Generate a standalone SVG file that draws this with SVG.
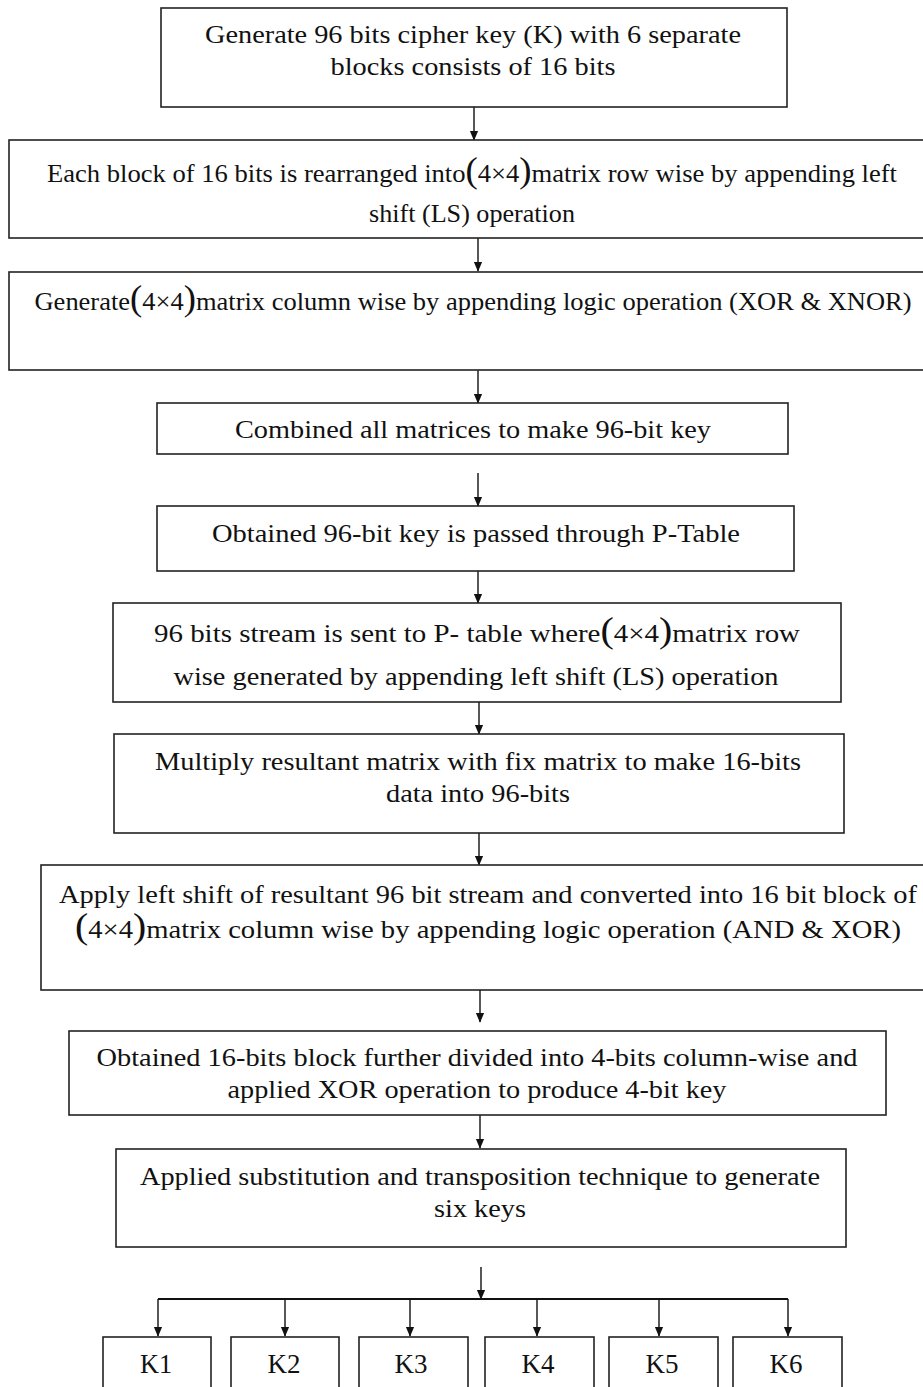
<svg xmlns="http://www.w3.org/2000/svg" width="923" height="1387" viewBox="0 0 923 1387">
<style>
.box{fill:#fff;stroke:#222;stroke-width:1.6}
.t{font-family:"Liberation Serif","Times New Roman",serif;font-size:26px;fill:#111;text-anchor:middle}
.k{font-size:28px}
.p{font-size:36px}
.c{stroke:#111;stroke-width:1.4;fill:none}
</style>
<defs>
<marker id="a" markerWidth="10" markerHeight="12" refX="11" refY="5" orient="auto" markerUnits="userSpaceOnUse" viewBox="0 0 12 10">
<path d="M0,0 L12,5 L0,10 Z" fill="#111"/>
</marker>
</defs>
<rect width="923" height="1387" fill="#fff"/>
<g id="connectors">
<line class="c" x1="474" y1="107" x2="474" y2="140" marker-end="url(#a)"/>
<line class="c" x1="478" y1="238" x2="478" y2="271" marker-end="url(#a)"/>
<line class="c" x1="478" y1="370" x2="478" y2="403" marker-end="url(#a)"/>
<line class="c" x1="478" y1="473" x2="478" y2="506" marker-end="url(#a)"/>
<line class="c" x1="478" y1="571" x2="478" y2="603" marker-end="url(#a)"/>
<line class="c" x1="479" y1="702" x2="479" y2="734" marker-end="url(#a)"/>
<line class="c" x1="479" y1="833" x2="479" y2="865" marker-end="url(#a)"/>
<line class="c" x1="480" y1="990" x2="480" y2="1022" marker-end="url(#a)"/>
<line class="c" x1="480" y1="1115" x2="480" y2="1148" marker-end="url(#a)"/>
<line class="c" x1="481" y1="1267" x2="481" y2="1299" marker-end="url(#a)"/>
<line class="c" x1="158" y1="1299" x2="788" y2="1299" style="stroke-width:2"/>
<line class="c" x1="158" y1="1299" x2="158" y2="1336" marker-end="url(#a)"/>
<line class="c" x1="285" y1="1299" x2="285" y2="1336" marker-end="url(#a)"/>
<line class="c" x1="410" y1="1299" x2="410" y2="1336" marker-end="url(#a)"/>
<line class="c" x1="537" y1="1299" x2="537" y2="1336" marker-end="url(#a)"/>
<line class="c" x1="659" y1="1299" x2="659" y2="1336" marker-end="url(#a)"/>
<line class="c" x1="788" y1="1299" x2="788" y2="1336" marker-end="url(#a)"/>
</g>
<g id="n1">
<rect class="box" x="161" y="8" width="626" height="99"/>
<text class="t" x="473" y="43" textLength="536" lengthAdjust="spacingAndGlyphs">Generate 96 bits cipher key (K) with 6 separate</text>
<text class="t" x="473" y="75" textLength="285" lengthAdjust="spacingAndGlyphs">blocks consists of 16 bits</text>
</g>
<g id="n2">
<rect class="box" x="9" y="140" width="930" height="98"/>
<text class="t" x="472" y="182" textLength="850" lengthAdjust="spacingAndGlyphs">Each block of 16 bits is rearranged into<tspan class="p">(</tspan>4×4<tspan class="p">)</tspan>matrix row wise by appending left</text>
<text class="t" x="472" y="222" textLength="206" lengthAdjust="spacingAndGlyphs">shift (LS) operation</text>
</g>
<g id="n3">
<rect class="box" x="9" y="272" width="930" height="98"/>
<text class="t" x="473" y="310" textLength="877" lengthAdjust="spacingAndGlyphs">Generate<tspan class="p">(</tspan>4×4<tspan class="p">)</tspan>matrix column wise by appending logic operation (XOR &amp; XNOR)</text>
</g>
<g id="n4">
<rect class="box" x="157" y="403" width="631" height="51"/>
<text class="t" x="473" y="438" textLength="476" lengthAdjust="spacingAndGlyphs">Combined all matrices to make 96-bit key</text>
</g>
<g id="n5">
<rect class="box" x="157" y="506" width="637" height="65"/>
<text class="t" x="476" y="542" textLength="528" lengthAdjust="spacingAndGlyphs">Obtained 96-bit key is passed through P-Table</text>
</g>
<g id="n6">
<rect class="box" x="113" y="603" width="728" height="99"/>
<text class="t" x="477" y="642" textLength="646" lengthAdjust="spacingAndGlyphs">96 bits stream is sent to P- table where<tspan class="p">(</tspan>4×4<tspan class="p">)</tspan>matrix row</text>
<text class="t" x="476" y="685" textLength="605" lengthAdjust="spacingAndGlyphs">wise generated by appending left shift (LS) operation</text>
</g>
<g id="n7">
<rect class="box" x="114" y="734" width="730" height="99"/>
<text class="t" x="478" y="770" textLength="646" lengthAdjust="spacingAndGlyphs">Multiply resultant matrix with fix matrix to make 16-bits</text>
<text class="t" x="478" y="802" textLength="184" lengthAdjust="spacingAndGlyphs">data into 96-bits</text>
</g>
<g id="n8">
<rect class="box" x="41" y="865" width="900" height="125"/>
<text class="t" x="488" y="903" textLength="858" lengthAdjust="spacingAndGlyphs">Apply left shift of resultant 96 bit stream and converted into 16 bit block of</text>
<text class="t" x="488" y="938" textLength="826" lengthAdjust="spacingAndGlyphs"><tspan class="p">(</tspan>4×4<tspan class="p">)</tspan>matrix column wise by appending logic operation (AND &amp; XOR)</text>
</g>
<g id="n9">
<rect class="box" x="69" y="1031" width="817" height="84"/>
<text class="t" x="477" y="1066" textLength="761" lengthAdjust="spacingAndGlyphs">Obtained 16-bits block further divided into 4-bits column-wise and</text>
<text class="t" x="477" y="1098" textLength="499" lengthAdjust="spacingAndGlyphs">applied XOR operation to produce 4-bit key</text>
</g>
<g id="n10">
<rect class="box" x="116" y="1149" width="730" height="98"/>
<text class="t" x="480" y="1185" textLength="680" lengthAdjust="spacingAndGlyphs">Applied substitution and transposition technique to generate</text>
<text class="t" x="480" y="1217" textLength="92" lengthAdjust="spacingAndGlyphs">six keys</text>
</g>
<g id="k1"><rect class="box" x="103" y="1337" width="108" height="70"/><text class="t k" x="156" y="1373" textLength="32" lengthAdjust="spacingAndGlyphs">K1</text></g>
<g id="k2"><rect class="box" x="231" y="1337" width="108" height="70"/><text class="t k" x="284" y="1373" textLength="33" lengthAdjust="spacingAndGlyphs">K2</text></g>
<g id="k3"><rect class="box" x="359" y="1337" width="109" height="70"/><text class="t k" x="411" y="1373" textLength="33" lengthAdjust="spacingAndGlyphs">K3</text></g>
<g id="k4"><rect class="box" x="485" y="1337" width="109" height="70"/><text class="t k" x="538" y="1373" textLength="33" lengthAdjust="spacingAndGlyphs">K4</text></g>
<g id="k5"><rect class="box" x="609" y="1337" width="109" height="70"/><text class="t k" x="662" y="1373" textLength="33" lengthAdjust="spacingAndGlyphs">K5</text></g>
<g id="k6"><rect class="box" x="733" y="1337" width="109" height="70"/><text class="t k" x="786" y="1373" textLength="33" lengthAdjust="spacingAndGlyphs">K6</text></g>
</svg>
